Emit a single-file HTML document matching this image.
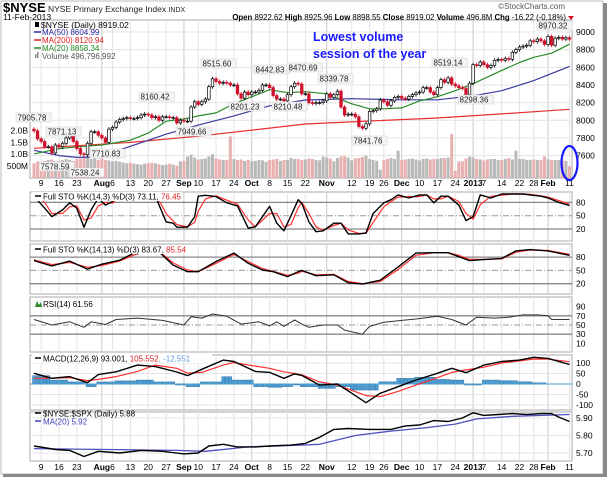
<!DOCTYPE html>
<html><head><meta charset="utf-8">
<style>
html,body{margin:0;padding:0;background:#fff;}
svg{display:block;font-family:"Liberation Sans",Arial,sans-serif;}
</style></head>
<body>
<svg id="chart" width="609" height="479" viewBox="0 0 609 479" xmlns="http://www.w3.org/2000/svg">
<rect x="0" y="0" width="609" height="479" fill="#fff"/>
<rect x="1" y="1" width="602" height="473" fill="none" stroke="#bbb"/>
<rect x="603" y="3" width="4" height="474" fill="#888"/>
<rect x="3" y="474" width="604" height="3" fill="#888"/>
<g id="grid"></g>
<g id="marks"></g>
<g id="texts"></g>
</svg>
<script>
// ---- data ----
const closes = [
7880,7790,7760,7700,7700,7630,7720,7700,7740,7800,7830,7760,7680,7620,7610,7740,7870,7870,7830,
7800,7750,7900,7920,7980,8010,8020,8030,8020,8020,8030,8060,8070,8060,8030,8040,8000,8040,8040,8030,8030,7970,8000,
7990,7990,8150,8210,8180,8210,8240,8380,8470,8440,8420,8430,8420,8400,8400,8300,8250,8320,8290,
8320,8320,8340,8400,8400,8370,8280,8240,8240,8220,8290,8380,8420,8410,8300,8300,8200,8190,8200,8200,8220,
8300,8260,8290,8330,8150,8060,8070,8070,8040,7930,7910,7960,8100,8110,8130,8230,8210,8170,8220,8260,8270,
8250,8240,8270,8290,8310,8320,8370,8370,8320,8290,8370,8460,8430,8480,8410,8390,8370,8360,8290,8420,
8630,8620,8660,8630,8600,8620,8680,8690,8680,8700,8690,8770,8800,8830,8840,8850,8900,8890,8920,8900,8860,
8950,8850,8930,8940,8920,8935,8919];
const volumes = [
620,700,650,720,760,780,700,720,750,800,760,720,800,830,900,870,800,820,760,
820,760,740,700,720,680,650,620,640,600,580,560,600,620,640,620,580,540,560,600,560,520,700,
720,900,980,860,780,800,820,900,1000,820,780,760,760,1750,800,760,780,720,760,
700,720,760,740,680,760,780,800,720,760,760,840,800,800,760,780,820,800,760,740,900,
860,820,700,840,900,920,860,740,820,840,880,940,800,760,720,350,760,800,840,800,1150,
760,780,800,820,780,740,800,820,780,800,800,840,840,860,1850,300,700,700,820,900,
860,800,780,740,780,800,800,760,760,800,840,780,1150,800,800,760,760,780,760,760,900,
780,760,760,760,740,720,497];
const ma20Idx = [0,7,12,19,27,32,37,42,46,51,56,66,71,76,82,89,94,98,103,108,113,118,123,131,136,140,145,150];
const ma20Val = [7620,7680,7700,7720,7775,7855,7990,8015,8050,8084,8187,8347,8313,8324,8300,8187,8130,8130,8140,8220,8267,8335,8415,8565,8655,8713,8760,8862];
const ma50Idx = [0,7,12,18,27,37,46,56,66,76,89,103,113,123,131,140,150];
const ma50Val = [7660,7600,7580,7585,7705,7843,7946,8050,8164,8230,8245,8232,8232,8278,8335,8450,8610];
const ma200Idx = [0,27,46,66,76,94,113,131,150];
const ma200Val = [7683,7750,7820,7912,7958,7992,8026,8072,8125];
const sto1Idx = [0,3,5,8,10,12,14,16,18,20,22,24,28,31,34,37,39,40,43,45,46,48,51,54,57,60,62,66,68,70,72,74,75,77,79,81,84,86,88,91,93,95,98,100,102,105,108,110,112,114,116,119,121,123,125,128,131,134,137,139,142,144,147,150];
const sto1K = [94,67,48,63,79,67,24,63,90,74,82,100,100,100,94,36,33,24,24,48,94,96,93,79,72,22,25,71,33,16,50,86,78,36,14,16,33,33,9,9,11,55,79,86,97,90,97,97,79,94,94,74,39,48,97,90,99,99,99,97,94,90,80,73];
const sto1D = [100,80,55,55,70,72,40,45,72,80,78,95,100,100,100,55,38,30,25,35,60,88,95,85,76,40,25,55,55,25,30,68,80,55,25,17,28,33,18,10,10,35,70,82,92,93,93,97,88,88,94,82,55,42,75,94,96,99,99,98,95,92,84,76];
const sto2Idx = [0,5,10,15,19,24,28,31,35,39,43,46,51,56,60,64,67,71,74,75,79,84,88,92,97,102,107,112,116,119,122,127,131,135,139,144,150];
const sto2K = [72,60,71,53,64,73,89,92,92,62,47,47,70,89,66,51,47,36,47,50,38,40,22,19,28,58,89,90,90,81,72,75,77,94,97,94,84];
const sto2D = [74,63,68,57,61,71,85,91,93,67,51,47,66,86,70,54,48,39,44,48,40,41,25,20,25,52,84,90,90,84,75,75,76,91,96,95,86];
const rsiIdx = [0,5,10,14,16,20,23,29,36,42,44,47,50,54,58,63,66,68,70,73,75,77,81,85,87,92,94,98,103,107,113,117,121,124,129,133,137,141,144,145,150];
const rsiVal = [62,50,57,45,57,51,62,65,60,50,68,65,74,69,52,57,48,57,47,61,52,45,50,50,39,30,47,56,60,63,69,62,50,67,65,67,72,72,70,62,62];
const macdIdx = [0,5,10,15,18,23,29,34,40,43,47,53,56,62,66,70,73,75,80,85,89,93,97,102,107,113,117,121,126,131,136,140,144,150];
const macdLine = [51,27,35,6,45,58,90,83,57,40,70,114,107,60,55,27,48,41,-5,0,-44,-89,-44,-13,19,51,75,54,90,107,114,127,122,93];
const macdSignal = [27,28,30,16,22,35,60,90,75,52,55,90,102,85,75,58,50,44,10,-5,-30,-55,-60,-35,-5,30,55,67,80,100,110,119,118,106];
const macdHist = [40,19,10,-13,10,15,19,10,-5,-13,10,35,19,-13,-16,-13,-5,-13,-21,-13,-29,-29,11,27,32,22,19,-5,19,16,11,6,0,-12];
const ratioIdx = [0,6,10,14,18,24,30,36,42,46,49,53,57,62,66,72,76,80,84,88,94,100,104,108,112,116,120,123,126,130,134,138,142,145,147,150];
const ratioVal = [5.74,5.72,5.715,5.68,5.71,5.70,5.715,5.71,5.695,5.70,5.74,5.75,5.735,5.735,5.74,5.745,5.755,5.79,5.835,5.84,5.835,5.835,5.855,5.86,5.885,5.88,5.90,5.93,5.915,5.92,5.925,5.92,5.925,5.925,5.905,5.88];
const ratioMaIdx = [0,20,40,48,60,75,80,90,100,110,118,124,134,150];
const ratioMaVal = [5.725,5.72,5.715,5.71,5.735,5.745,5.75,5.80,5.825,5.845,5.865,5.895,5.91,5.92];
const dateLabels = ["9","16","23","Aug","6","13","20","27","Sep","10","17","24","Oct","8","15","22","Nov","12","19","26","Dec","10","17","24","2013","7","14","22","28","Feb","11"];
const dateIdx = [2,7,12,19,22,27,32,37,42,46,51,56,61,66,71,76,82,89,94,98,103,108,113,118,123,126,131,136,140,144,150];
const priceTicks = [9000,8800,8600,8400,8200,8000,7800,7600];
const volTicks = [2000,1500,1000,500];
const volTickLabels = ["2.0B","1.5B","1.0B","500M"];
const callouts = [["7905.78",17,119],["7871.13",47,133],["7578.59",40,168],["7538.24",70,174],["7710.83",91,155],["8160.42",140,98],["7949.66",177,133],["8515.60",202,65],["8201.23",230,108],["8442.83",255,71],["8470.69",288,69],["8210.48",273,108],["8339.78",319,80],["7841.76",353,142],["8519.14",433,64],["8298.36",459,101],["8970.32",538,27]];

// ---- scales ----
const NS="http://www.w3.org/2000/svg";
const X0=30, X1=572;
const xs = i => 34 + i*3.57;
const yP = v => 32 + (9000-v)*0.0883;
const yV = v => 178 - v*0.0238;
const yS1 = v => 229 - (v-20)*0.4433;
const yS2 = v => 283.7 - (v-20)*0.4433;
const yR = v => 325 - (v-50)*0.46;
const yM = v => 384 - v*0.21;
const yQ = v => 418 + (5.90-v)*175;
const grid=document.getElementById('grid'), marks=document.getElementById('marks'), texts=document.getElementById('texts');
function mk(tag, attrs, parent){const e=document.createElementNS(NS,tag);for(const k in attrs)e.setAttribute(k,attrs[k]);parent.appendChild(e);return e;}
function txt(s,x,y,opt,parent){const e=mk('text',Object.assign({x:x,y:y,'font-size':9,fill:'#000'},opt||{}),parent||texts);e.textContent=s;return e;}
function rich(parts,x,y,opt){
  const e=mk('text',Object.assign({x:x,y:y,'font-size':8,fill:'#000'},opt||{}),texts);
  parts.forEach(p=>{const s=mk('tspan',p[1]||{},e);s.textContent=p[0];});
  return e;
}

const panels=[["main-panel",20,178],["sto-fast-panel",192,241],["sto-slow-panel",244,294],["rsi-panel",297,352],["macd-panel",355,410],["ratio-panel",412,461]];
panels.forEach((p,k)=>{
  const r=mk('rect',{x:X0,y:p[1],width:X1-X0,height:p[2]-p[1],fill:'#fff',stroke:'#aaa','stroke-width':1},grid);
  
  
  const c=mk('clipPath',{id:'clip'+k},grid);
  mk('rect',{x:X0,y:p[1],width:X1-X0,height:p[2]-p[1]},c);
  dateIdx.forEach((d,j)=>{
    const isMonth=isNaN(+dateLabels[j])||dateLabels[j]==="2013";
    mk('line',{x1:xs(d),x2:xs(d),y1:p[1],y2:p[2],stroke:isMonth?'#c8c8c8':'#e4e4e4','stroke-width':1},grid);
  });
});
priceTicks.forEach(v=>{
  mk('line',{x1:X0,x2:X1,y1:yP(v),y2:yP(v),stroke:'#e4e4e4'},grid);
  const t=txt(String(v),576,yP(v)+3,{'font-size':8.5});
  
  
});
volTicks.forEach((v,j)=>{
  const t=txt(volTickLabels[j],28,yV(v)+3,{'text-anchor':'end','font-size':8.5});
  
  
});
function refLines(yf,vals,dashed,labels){
  vals.forEach((v,j)=>{
    const a={x1:X0,x2:X1,y1:yf(v),y2:yf(v),stroke:dashed[j]?'#999':'#888','stroke-width':dashed[j]?1:1.3};
    if(dashed[j]) a['stroke-dasharray']='6,2,1,2';
    mk('line',a,grid);
  });
  labels.forEach(l=>{const t=txt(l[0],576,yf(l[1])+3,{'font-size':8.5});
    
    });
}
refLines(yS1,[80,50,20],[0,1,0],[["80",80],["50",50],["20",20]]);
refLines(yS2,[80,50,20],[0,1,0],[["80",80],["50",50],["20",20]]);
refLines(yR,[70,50,30],[0,1,0],[["90",90],["70",70],["50",50],["30",30],["10",10]]);
[100,50,0,-50,-100].forEach(v=>{mk('line',{x1:X0,x2:X1,y1:yM(v),y2:yM(v),stroke:'#e4e4e4'},grid);
  const t=txt(String(v),576,yM(v)+3,{'font-size':8.5});});
[5.90,5.80,5.70].forEach(v=>{mk('line',{x1:X0,x2:X1,y1:yQ(v),y2:yQ(v),stroke:'#e4e4e4'},grid);
  const t=txt(v.toFixed(2),576,yQ(v)+3,{'font-size':8.5});});

dateIdx.forEach((d,j)=>{
  const bold=isNaN(+dateLabels[j])||dateLabels[j]==="2013";
  [186,470].forEach(y=>{
    const t=txt(dateLabels[j],xs(d),y,{'text-anchor':'middle','font-size':8.5,'font-weight':bold?'bold':'normal'});
    
    
  });
});

// ---- main panel ----
const gMain=mk('g',{'clip-path':'url(#clip0)'},marks);
volumes.forEach((v,i)=>{
  const up = i===0 ? false : closes[i]>=closes[i-1];
  const r=mk('rect',{x:xs(i)-1.5,y:yV(v),width:3,height:178-yV(v),fill:up?'#b9b9b9':'#eab0b0'},gMain);
  
  
});
function line(idx,vals,yf,color,w,parent,name){
  const pts=idx.map((d,j)=>xs(d).toFixed(1)+','+yf(vals[j]).toFixed(1)).join(' ');
  const p=mk('polyline',{points:pts,fill:'none',stroke:color,'stroke-width':w,'stroke-linejoin':'round'},parent);
  
  
  return p;
}
line(ma200Idx,ma200Val,yP,'#e83030',1.2,gMain,'ma200-line');
line(ma50Idx,ma50Val,yP,'#3a3aa0',1.2,gMain,'ma50-line');
line(ma20Idx,ma20Val,yP,'#2a8a2a',1.2,gMain,'ma20-line');
closes.forEach((c,i)=>{
  const o = i===0 ? c+20 : closes[i-1];
  const up = c>=o;
  const top=yP(Math.max(o,c)), bot=yP(Math.min(o,c));
  const col = up ? '#000' : '#d0102a';
  mk('line',{x1:xs(i),x2:xs(i),y1:top-2,y2:bot+2,stroke:col,'stroke-width':0.8},gMain);
  const r=mk('rect',{x:xs(i)-1.3,y:top,width:2.6,height:Math.max(bot-top,0.8),fill:up?'#fff':'#d0102a',stroke:col,'stroke-width':0.7},gMain);
  
  
});
callouts.forEach(c=>{
  const w=c[0].length*4.6+3;
  mk('rect',{x:c[1]-1,y:c[2]-6,width:w,height:9,fill:'#f4f4f4',stroke:'#ccc','stroke-width':0.5},texts);
  const t=txt(c[0],c[1]+0.5,c[2]+1.5,{'font-size':8,fill:'#222'});
  
  
});

// ---- indicators ----
const g1=mk('g',{'clip-path':'url(#clip1)'},marks);
line(sto1Idx,sto1D,yS1,'#ff3030',1.2,g1,'sto-fast-d-line');
line(sto1Idx,sto1K,yS1,'#000',1.4,g1,'sto-fast-k-line');
const g2=mk('g',{'clip-path':'url(#clip2)'},marks);
line(sto2Idx,sto2D,yS2,'#ff3030',1.2,g2,'sto-slow-d-line');
line(sto2Idx,sto2K,yS2,'#000',1.4,g2,'sto-slow-k-line');
const g3=mk('g',{'clip-path':'url(#clip3)'},marks);
line(rsiIdx,rsiVal,yR,'#333',1,g3,'rsi-line');
const g4=mk('g',{'clip-path':'url(#clip4)'},marks);
macdIdx.forEach((d,j)=>{
  if(j===macdIdx.length-1) return;
  const x0=xs(d), x1=xs(macdIdx[j+1]);
  for(let x=x0;x<x1-0.5;x+=3.57){
    const h=macdHist[j];
    const r=mk('rect',{x:x-1.5,y:Math.min(yM(h),yM(0)),width:3,height:Math.abs(yM(h)-yM(0)),fill:'#4a9ed6',stroke:'#2a6a9a','stroke-width':0.4},g4);
    
    
  }
});
mk('line',{x1:X0,x2:X1,y1:yM(0),y2:yM(0),stroke:'#4a9ed6','stroke-width':1},g4);
line(macdIdx,macdSignal,yM,'#ff3030',1.2,g4,'macd-signal-line');
line(macdIdx,macdLine,yM,'#000',1.4,g4,'macd-line');
const g5=mk('g',{'clip-path':'url(#clip5)'},marks);
line(ratioMaIdx,ratioMaVal,yQ,'#5050c0',1.3,g5,'ratio-ma-line');
line(ratioIdx,ratioVal,yQ,'#000',1.4,g5,'ratio-line');

// ---- legends ----
function legendBox(x,y,w){mk('rect',{x:x,y:y,width:w,height:9,fill:'#fff'},texts);}
legendBox(32,192,150);
mk('line',{x1:35,x2:41,y1:196,y2:196,stroke:'#000','stroke-width':1.5},texts);
let t=rich([['Full STO %K(14,3) %D(3) 73.11, '],['76.45',{fill:'#e02020'}]],43,199.5);

legendBox(32,245,155);
mk('line',{x1:35,x2:41,y1:249,y2:249,stroke:'#000','stroke-width':1.5},texts);
t=rich([['Full STO %K(14,13) %D(3) 83.67, '],['85.54',{fill:'#e02020'}]],43,252.5);

mk('path',{d:'M35,307 L37,301 L39,305 L41,302 L42,307Z',fill:'#2a8a2a'},texts);
t=rich([['RSI(14) 61.56']],43,307);

legendBox(32,354,180);
mk('line',{x1:35,x2:41,y1:358,y2:358,stroke:'#000','stroke-width':1.5},texts);
t=rich([['MACD(12,26,9) 93.001, '],['105.552',{fill:'#e02020'}],[', -12.551',{fill:'#5a9ad6'}]],43,361.5);

mk('line',{x1:35,x2:41,y1:413,y2:413,stroke:'#000','stroke-width':1.5},texts);
t=rich([['$NYSE:$SPX (Daily) 5.88']],43,416.5);

mk('line',{x1:35,x2:41,y1:421,y2:421,stroke:'#4040c0','stroke-width':1.5},texts);
t=rich([['MA(20) 5.92',{fill:'#4040c0'}]],43,424.5);


mk('rect',{x:35,y:22,width:4,height:5,fill:'#000'},texts);
t=rich([['$NYSE (Daily) 8919.02']],41,28,{'font-size':8.5});

[["MA(50) 8604.99",'#2a2aa0',35],["MA(200) 8120.94",'#e02020',43],["MA(20) 8858.34",'#2a8a2a',51]].forEach(l=>{
  mk('line',{x1:34,x2:41,y1:l[2]-3,y2:l[2]-3,stroke:l[1],'stroke-width':1.5},texts);
  const e=txt(l[0],42,l[2],{'font-size':8,fill:l[1]});
  
});
mk('rect',{x:35,y:54,width:1.5,height:4,fill:'#888'},texts);
mk('rect',{x:37,y:52,width:1.5,height:6,fill:'#888'},texts);
t=txt('Volume 496,796,992',42,59,{'font-size':8,fill:'#555'});


// header
t=rich([['$NYSE',{'font-size':13,'font-weight':'bold'}],[' NYSE Primary Exchange Index ',{'font-size':8.5,fill:'#222'}],['INDX',{'font-size':7,fill:'#222'}]],3,12);

txt('11-Feb-2013',3,20,{'font-size':8.5});
t=txt('©StockCharts.com',565,9,{'font-size':8,fill:'#555','text-anchor':'end'});

const B={'font-weight':'bold'};
t=rich([['Open',B],[' 8922.62  '],['High',B],[' 8925.96  '],['Low',B],[' 8898.55  '],['Close',B],[' 8919.02  '],['Volume',B],[' 496.8M  '],['Chg',B],[' -16.22 (-0.18%)']],566,20,{'font-size':7.8,'text-anchor':'end'});

mk('path',{d:'M568,16 L574,16 L571,20Z',fill:'#d0102a'},texts);

// annotation
t=txt('Lowest volume',313,41,{'font-size':12.5,'font-weight':'bold',fill:'#1a1aff'});

txt('session of the year',313,58,{'font-size':12.5,'font-weight':'bold',fill:'#1a1aff'});
const ell=mk('ellipse',{cx:xs(150),cy:163,rx:8,ry:17,fill:'none',stroke:'#1a1aff','stroke-width':2.2},texts);


</script>
</body></html>
